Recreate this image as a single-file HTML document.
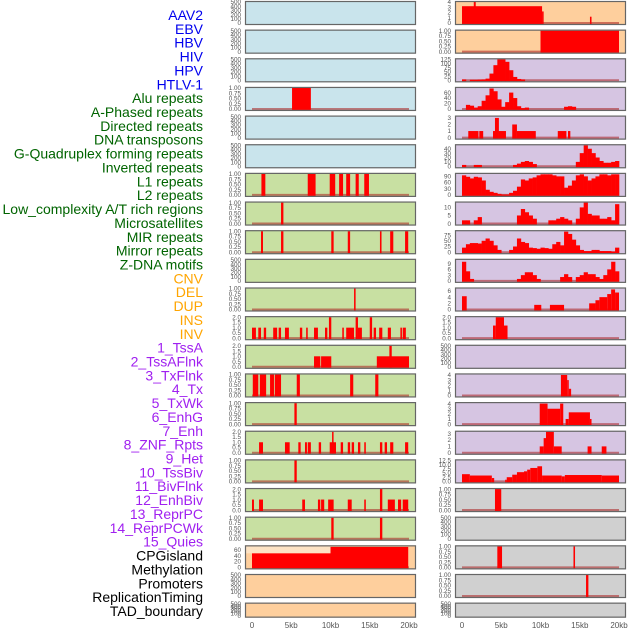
<!DOCTYPE html>
<html><head><meta charset="utf-8"><style>
html,body{margin:0;padding:0;background:#fff;}
svg{display:block;font-family:"Liberation Sans",sans-serif;}
</style></head><body>
<svg id="chart" width="630" height="630" viewBox="0 0 630 630" xmlns="http://www.w3.org/2000/svg"></svg>
<script>
// ---- data ----
const labelNames = ["AAV2","EBV","HBV","HIV","HPV","HTLV-1","Alu repeats","A-Phased repeats","Directed repeats","DNA transposons","G-Quadruplex forming repeats","Inverted repeats","L1 repeats","L2 repeats","Low_complexity A/T rich regions","Microsatellites","MIR repeats","Mirror repeats","Z-DNA motifs","CNV","DEL","DUP","INS","INV","1_TssA","2_TssAFlnk","3_TxFlnk","4_Tx","5_TxWk","6_EnhG","7_Enh","8_ZNF_Rpts","9_Het","10_TssBiv","11_BivFlnk","12_EnhBiv","13_ReprPC","14_ReprPCWk","15_Quies","CPGisland","Methylation","Promoters","ReplicationTiming","TAD_boundary"];
const xTickKb = [0,5,10,15,20];
const xTickLabels = ["0","5kb","10kb","15kb","20kb"];
const ticksEmpty = [0,100,200,300,400,500];
const ticks01 = [0,0.25,0.5,0.75,1];
const ticks02 = [0,0.5,1,1.5,2];
// segments [startKb, endKb, value]
const hivSeg = [[5.1,7.5,1]];
const aluSeg = [[1.2,1.7,1],[7.1,8.1,1],[9.9,10.6,1],[11.1,11.6,1],[12.0,12.5,1],[13.2,13.6,1],[14.3,14.9,1]];
const aphasedSeg = [[3.7,4.0,1]];
const directedSeg = [[1.15,1.4,1],[3.7,4.0,1],[10.1,10.4,1],[12.2,12.5,1],[16.3,16.5,1],[17.6,18.0,1],[19.5,19.9,1]];
const gquadSeg = [[13.0,13.2,1]];
const invertedSeg = [[0,0.5,1],[0.8,1.15,1],[1.5,1.8,1],[2.7,3.2,1],[3.4,3.7,1],[4.2,4.7,1],[6.1,6.4,1],[6.9,7.1,1],[7.9,8.4,1],[9.3,9.6,1],[9.8,10.1,2],[11.5,11.7,1],[12.0,13.0,1],[13.2,13.5,2],[13.5,14.0,1],[15.0,15.3,2],[15.5,15.8,1],[16.2,16.6,1],[17.3,17.7,1],[18.9,19.1,1],[19.2,19.6,1]];
const l1Seg = [[7.9,8.7,1],[8.8,10.1,1],[15.9,20,1],[17.5,17.8,2]];
const l2Seg = [[0.1,0.8,1],[1.0,1.8,1],[2.3,2.8,1],[2.9,3.7,1],[5.7,6.1,1],[12.5,12.9,1],[15.7,16.1,1]];
const lowcSeg = [[5.4,5.7,1]];
const microSeg = [[0.9,1.4,1],[4.2,4.8,1],[5.9,6.2,1],[6.75,7.0,1],[7.1,7.5,1],[8.5,8.8,1],[9.9,10.7,1],[10.2,10.3,2],[11.3,11.6,1],[12.2,12.5,1],[12.7,13.0,1],[13.5,13.8,1],[14.3,14.5,1],[16.3,16.6,1],[16.9,17.2,1],[17.6,18.0,1],[19.5,19.9,1]];
const mirSeg = [[5.4,5.7,1]];
const mirrorSeg = [[0,0.25,1],[0.9,1.4,1],[6.4,6.75,1],[8.4,8.7,1],[8.8,9.2,1],[9.7,10.4,1],[12.2,12.7,1],[14.3,14.5,1],[16.3,16.6,2],[17.3,18.2,1],[18.6,19.0,1],[19.2,19.9,1]];
const zdnaSeg = [[10.1,10.4,1],[16.3,16.6,1]];
const cnvSeg = [[0,10,48],[10,19.9,70]];
const insSeg = [[0,10.2,3.2],[1.5,1.75,4],[10.2,10.4,2.2],[16.3,16.5,1.2]];
const invSeg = [[10,20,1]];
const txFlnkSeg = [[0.8,2.1,1],[2.2,2.7,1],[3.95,4.7,1],[4.2,4.7,3],[4.7,5.6,1],[6.4,7.0,2],[7.0,9.4,1],[12.2,13.3,1],[13.5,13.8,1]];
const hetSeg = [[0,0.6,4.3],[9.2,10.1,1.5],[11.2,13,1.5],[16.2,17,2],[17,17.5,3],[17.5,18.5,4],[18.5,19,5],[19,19.5,6.5],[19.5,20,5.5]];
const tssBivSeg = [[3.95,4.3,1.2],[4.3,5.35,2],[5.35,5.8,1.2]];
const enhBivSeg = [[12.6,13.4,4],[13.4,13.6,3],[13.6,13.9,1.3]];
const reprPCSeg = [[9.9,10.9,4],[10.9,12.5,3],[12.5,12.9,4],[13.2,13.6,1],[13.6,16.3,2.3],[16.3,16.5,1]];
const reprPCWkSeg = [[9.9,10.4,1],[10.4,10.7,2.3],[10.7,11.7,3.3],[11.7,12.7,1],[16,16.5,1],[17.8,18.4,1]];
const quiesSeg = [[0,1,4.3],[1,3.8,3.5],[3.8,4.1,2],[5.5,5.7,1],[5.7,6.4,2.5],[6.4,7.0,4],[7.0,7.9,5.5],[7.9,8.3,6],[8.3,8.7,7],[8.7,9.6,8],[9.6,10.2,9],[10.2,12.7,3.5],[12.7,13.1,3],[13.1,17.8,3.8],[17.8,20,3.5]];
const cpgSeg = [[4.2,5.0,1]];
const promSeg = [[4.5,5.1,1],[14.2,14.4,1]];
const repliSeg = [[15.8,16.1,1]];
// profiles: 40 bins of 0.5kb
const tssA = [5,0,3,3,4,5,10,40,90,125,125,110,60,20,8,5,0,0,0,0,0,0,0,0,0,0,0,0,0,0,0,0,0,0,0,0,0,0,0,0];
const tssAFlnk = [0,15,12,5,10,30,50,75,65,35,8,25,60,40,10,3,5,0,0,0,0,0,0,0,0,0,8,10,8,0,0,0,0,0,0,0,0,0,0,0];
const tx = [3,0,0,3,3,0,0,0,0,0,0,0,0,3,6,10,12,10,5,0,0,0,0,0,0,0,0,0,0,10,30,48,40,30,20,12,8,8,10,12];
const txWk = [95,88,80,88,85,70,25,15,10,5,2,2,10,20,40,75,70,80,85,95,100,100,100,95,90,90,35,45,70,95,100,90,70,80,90,100,100,95,100,100];
const enhG = [2,2,0,2,4,0,0,0,0,0,0,0,0,0,5,9,7,5,3,0,0,0,2,2,3,4,3,2,0,3,10,13,6,5,5,3,3,4,2,12];
const enh = [20,35,40,40,38,50,60,50,30,10,0,0,10,25,60,45,40,20,18,15,20,18,15,35,45,30,90,80,55,30,10,5,5,10,10,5,5,5,3,20];
const znf = [10,5,1,0,0,0,0,0,0,0,0,0,0,0,1,3,4.5,4.5,3,1,0,0,0,0,0,2,3.5,2,0,2,3,4.5,3.5,3.5,2,1,3,6,10,5];

const BG = {blue:"#c9e4ec", green:"#c8e0a2", orange:"#fecf9d", purple:"#d6c5e2", gray:"#d0d0d0"};
const panels = [
 [0,0,"blue",ticksEmpty,500,null,null],[0,1,"blue",ticksEmpty,500,null,null],[0,2,"blue",ticksEmpty,500,null,null],
 [0,3,"blue",ticks01,1,hivSeg,null],[0,4,"blue",ticksEmpty,500,null,null],[0,5,"blue",ticksEmpty,500,null,null],
 [0,6,"green",ticks01,1,aluSeg,null],[0,7,"green",ticks01,1,aphasedSeg,null],[0,8,"green",ticks01,1,directedSeg,null],
 [0,9,"green",ticksEmpty,500,null,null],[0,10,"green",ticks01,1,gquadSeg,null],[0,11,"green",ticks02,2,invertedSeg,null],
 [0,12,"green",ticks02,2,l1Seg,null],[0,13,"green",ticks01,1,l2Seg,null],[0,14,"green",ticks01,1,lowcSeg,null],
 [0,15,"green",ticks02,2,microSeg,null],[0,16,"green",ticks01,1,mirSeg,null],[0,17,"green",ticks02,2,mirrorSeg,null],
 [0,18,"green",ticks01,1,zdnaSeg,null],[0,19,"orange",[0,20,40,60],72,cnvSeg,null],
 [0,20,"orange",ticksEmpty,500,null,null],[0,21,"orange",ticksEmpty,500,null,null],
 [1,0,"orange",[0,1,2,3,4],4,insSeg,null],[1,1,"orange",ticks01,1,invSeg,null],
 [1,2,"purple",[0,25,50,75,100,125],125,null,tssA],[1,3,"purple",[0,20,40,60],77,null,tssAFlnk],
 [1,4,"purple",[0,1,2,3],3.2,txFlnkSeg,null],[1,5,"purple",[0,10,20,30,40],48,null,tx],
 [1,6,"purple",[0,30,60,90],102,null,txWk],[1,7,"purple",[0,5,10],13,null,enhG],
 [1,8,"purple",[0,25,50,75],92,null,enh],[1,9,"purple",[0,3,6,9],11,null,znf],
 [1,10,"purple",[0,2,4,6],6.8,hetSeg,null],[1,11,"purple",ticks02,2,tssBivSeg,null],
 [1,12,"purple",ticksEmpty,500,null,null],[1,13,"purple",[0,1,2,3,4],4.1,enhBivSeg,null],
 [1,14,"purple",[0,1,2,3,4],4.1,reprPCSeg,null],[1,15,"purple",[0,1,2,3],3.3,reprPCWkSeg,null],
 [1,16,"purple",[0,2.5,5,7.5,10,12.5],12.5,quiesSeg,null],[1,17,"gray",ticks01,1,cpgSeg,null],
 [1,18,"gray",ticksEmpty,500,null,null],[1,19,"gray",ticks01,1,promSeg,null],
 [1,20,"gray",ticks01,1,repliSeg,null],[1,21,"gray",ticksEmpty,500,null,null]
];
const labelColors = i => i<6?"#0000ee":i<19?"#006400":i<24?"#ffa500":i<39?"#a020f0":"#000";

const NS="http://www.w3.org/2000/svg";
const svg=document.getElementById("chart");
function mk(tag,attrs,parent){const e=document.createElementNS(NS,tag);for(const k in attrs)e.setAttribute(k,attrs[k]);(parent||svg).appendChild(e);return e;}
const PX=[245,455], PW=171, X0=[252,462], PXK=7.85;
function xScale(col,k){return X0[col]+k*PXK;}
function rowTop(r){return 1+28.65*r;}
function rowH(r){return r===21?15:24;}
function fmt(t,ticks){const m=Math.max(...ticks);if(m===1)return t.toFixed(2);if(m===2)return t.toFixed(1);if(ticks.includes(2.5))return t.toFixed(1);return String(t);}

labelNames.forEach((n,i)=>{
  const t=mk("text",{x:203,y:20+13.86*i,"text-anchor":"end","font-size":"14",fill:labelColors(i)});
  t.textContent=n;
  
  
});

panels.forEach(p=>{
  const [col,row,bg,ticks,ymax,seg,prof]=p;
  const top=rowTop(row),h=rowH(row),x=PX[col];
  const g=mk("g",{});
  
  
  const base=top+h-2, span=h-3;
  const yScale=v=>base-v/ymax*span;
  mk("rect",{x:x,y:top,width:PW,height:h,fill:BG[bg]},g);
  if(seg===cnvSeg){
    const hl=mk("rect",{x:x+1,y:top+1,width:xScale(col,10)-x-1,height:yScale(cnvSeg[0][2])-top-1,fill:"#fde3c4"},g);
    
    
  }
  ticks.forEach(t=>{
    const tx=mk("text",{x:x-4,y:yScale(t)+2.2,"text-anchor":"end","font-size":"6.3",fill:"#555"},g);
    tx.textContent=fmt(t,ticks);
    
    
  });
  if(seg||prof){
    const bl=mk("line",{x1:xScale(col,0),x2:xScale(col,20),y1:base,y2:base,stroke:"rgba(170,30,30,0.55)","stroke-width":"2"},g);
    
    
  }
  if(seg){
    seg.forEach(s=>{
      const r=mk("rect",{x:xScale(col,s[0]),y:yScale(s[2]),width:Math.max(1.5,xScale(col,s[1])-xScale(col,s[0])),height:base-yScale(s[2])+1,fill:"#ff0000"},g);
      
      
    });
  }
  if(prof){
    prof.forEach((v,i)=>{
      if(v<=0)return;
      const r=mk("rect",{x:xScale(col,i*0.5),y:yScale(v),width:0.5*PXK+0.3,height:base-yScale(v)+1,fill:"#ff0000"},g);
      
      
    });
  }
  mk("rect",{x:x+0.5,y:top+0.5,width:PW-1,height:h-1,fill:"none",stroke:"#666","stroke-width":"1.2"},g);
});

[0,1].forEach(col=>{
  xTickKb.forEach((k,i)=>{
    const t=mk("text",{x:xScale(col,k),y:628,"text-anchor":"middle","font-size":"8",fill:"#555"});
    t.textContent=xTickLabels[i];
    
    
  });
});
</script>
</body></html>
